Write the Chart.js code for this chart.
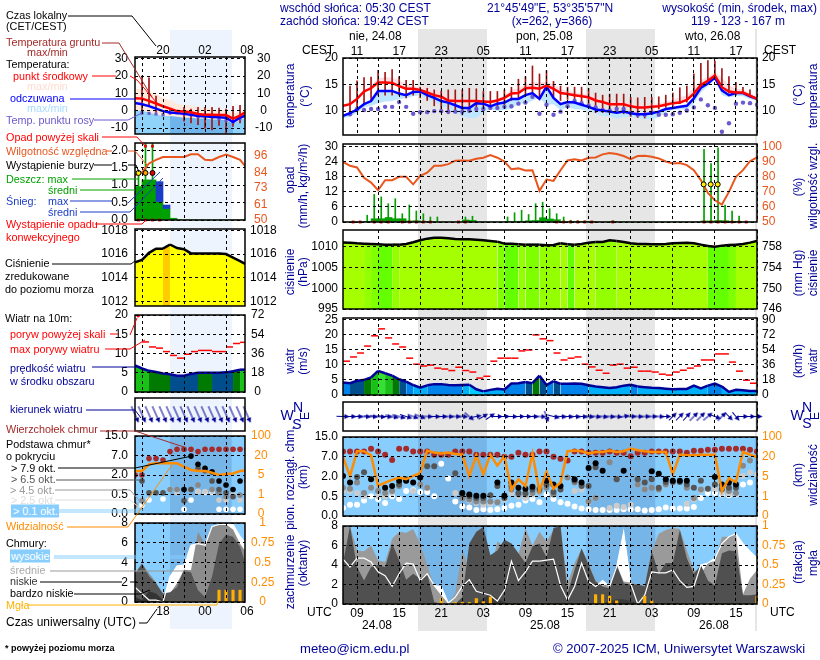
<!DOCTYPE html>
<html><head><meta charset="utf-8">
<script src="https://cdn.jsdelivr.net/npm/chart.js@4"></script>
<style>
html,body{margin:0;padding:0;background:#fff;width:820px;height:660px;overflow:hidden}
#page{position:relative;width:820px;height:660px;font-family:"Liberation Sans",Arial,sans-serif;font-size:12px}
#page canvas{position:absolute}
.t{position:absolute;white-space:nowrap;line-height:13px;transform:translateY(-50%);z-index:5}
.r{position:absolute;white-space:nowrap;line-height:13px;transform:translate(-50%,-50%) rotate(-90deg);z-index:5}
.s{position:absolute;z-index:1}
svg{position:absolute;left:0;top:0;z-index:4}
</style></head><body><div id="page"></div>
<script>
// ---------- main meteogram (hourly from 07 UTC 24.08) ----------
const tempMid=[11,11.3,12.3,13.7,14.3,15.4,15.4,15.3,14.7,14.2,14.2,14,13.5,13,12.7,12,11.9,11.9,11.9,11.9,11.8,11.7,12,12.5,13.3,13.4,14.3,14.4,14.2,14.8,14.2,13.4,13.2,13,12.8,12.6,12,11.7,11.3,11.3,11.3,10.9,10.7,10.7,10.8,10.9,11.2,11.5,11.6,12.1,13.3,14.9,15.7,16.7,14.5,13.7,13.5,13.5,12.9,12.3];
const tempMax=[11.2,11.5,12.6,14,14.8,16.2,16.4,16.3,15.8,15,14.7,14.5,14.5,14,13.5,13,12.3,12.2,12.2,12.2,12.2,12.1,12.3,13,14,14.3,15,15.5,15.4,15.5,15,14.2,13.8,13.6,13.3,13.2,12.7,12.2,11.9,11.8,11.8,11.5,11.2,11.1,11.3,11.5,11.8,12.1,12.6,13,14.5,15.8,16.4,17.3,16.3,14.8,14.2,14,13.4,12.6];
const appMid=[9.1,9.6,10.3,11.3,11.9,13.8,13.8,13.8,13.3,13,13.6,13.7,13,12.5,11.9,11.6,11.1,10.6,10.6,11.5,11.4,10.9,11.4,11.6,12.3,12.3,13,13.4,12.3,14.6,12.5,11.3,11.7,11.6,11.2,10.8,10.3,10.1,9.9,9.7,9.9,9.6,9.4,9.4,9.6,9.9,10.4,10.6,10.8,11,12.4,14.4,15.2,16.3,13.9,13,13.4,13.4,12.8,12.3];
const appMin=[8.6,9,9.7,10.7,11,11.5,11.8,11.9,12.3,12.4,12.8,13,12.3,11.8,11,10.4,9.7,9,8.7,8.7,9.8,10.4,10,10.2,10.4,11.5,11.4,12,12.5,11.2,11.3,10.2,10.7,10.4,10.3,10,9.5,9.1,9,8.6,8.9,9,8.7,8.4,8.4,8.9,9.8,10.2,10.3,10.3,11.4,13.5,14.7,16,13,12.6,12.8,12.8,12.3,12];
const dewPoint=[null,9.4,10.4,10.2,10.4,10.4,10.8,10.8,11.7,10.8,9.5,9.8,9.8,10,10,9.9,9.9,9.9,10.1,10.4,10.4,10.6,10.6,10.8,10.9,11.4,11.6,12.7,9.5,11.2,9.3,9.9,10.9,11.9,11.5,11,10.7,10.2,10.1,10.4,10.4,9.6,9.3,9.3,9.7,9.3,9.3,9.4,9.7,10.1,10.7,12.2,11.1,10.6,6.1,7.7,11.4,11.6,11.5,11.2];
const groundMax=[null,14.7,15.7,16.3,16.4,17.7,17.3,17.8,16.5,15.8,15.8,14.5,14.3,14,13.8,14,14,14,14.3,14.2,13.7,13.7,13.7,14,14.5,16,16.5,18.5,17,17.6,15.6,14.7,14.5,14.5,14.5,14.3,13.4,13,13.2,13.2,13.2,12.6,12.5,12.6,12.6,12.7,13,13.4,14.4,14.7,17,19,19.5,19.4,18,16.5,15.4,14.5,14,12.4];
const groundMin=[null,10,10.5,11.5,12,13,13,13,13,12.5,13,12.5,12,11,10,9.5,9.7,9.3,9.7,10.5,10.4,10.5,10.5,11,12,12.3,13,13.6,12.6,14,12.7,12,12.2,11.9,11.7,11.2,9.7,9.7,9.7,10,9.5,9,8.8,8.7,9.7,10.4,10.7,10.9,11.4,11.7,12.7,15,15.6,16.3,14.7,13.4,13,13.4,12.7,12];
const humidity=[90,87.3,86.2,79.3,76.2,71.1,77.8,77.8,80,80,75,80.7,82.7,87.3,87.3,88.4,90.7,90.9,90.7,92,92.7,94.4,92.7,90.2,85,85.6,84.2,84.4,70.7,78.2,77.3,84.4,90.9,91.6,90.9,92.7,92.9,94.9,95.8,95.1,93.8,91.8,93.8,94,93.3,92.2,90.2,88.9,89.1,87.8,84.4,77.8,69.3,64.4,61.6,70,80,84.4,90.4,92.9];
const rainMax=[0,0,0,2.7,11,10,7.3,9.3,3.3,6.8,4.4,3.3,2,2,0,0,0,2,2.3,0,0,0,0,2,3.7,4.7,3,7.3,7.9,5.3,3.3,2,0.7,0.5,0.5,0.3,0,0,0.5,0,0,0,0,0,0,0,0,0,0,0,0,29,23.3,29.6,6.7,4.4,2.4,0,0];
const rainMean=[0,0,0,0.1,1.3,1.3,1.8,1.3,1.3,0.4,0.5,0.3,0.2,0,0,0,0,0.8,0.6,0,0,0,0,0.1,0.2,0.3,0.5,0.6,1.7,1.2,0.9,0.2,0.1,0.1,0.1,0.1,0,0,0.1,0,0,0,0,0,0,0,0,0,0,0,0,0.4,0.4,0.6,0.5,0.3,0.1,0,0];
const convective=[0,1,1,0,1,1,1,0,1,1,1,1,1,0,0,0,1,1,0,0,0,0,0,0,0,0,0,0,0,0,1,1,1,1,1,1,0,0,1,0,0,0,0,0,0,0,0,0,0,0,0,1,1,1,1,1,1,1,0];
const thunder=[null,null,null,null,null,null,null,null,null,null,null,null,null,null,null,null,null,null,null,null,null,null,null,null,null,null,null,null,null,null,null,null,null,null,null,null,null,null,null,null,null,null,null,null,null,null,null,null,null,null,null,15,15,15,null,null,null,null,null];
const pressure=[1011,1010.96,1010.8,1010.72,1010.64,1010.56,1010.48,1010.48,1010.48,1010.64,1011.04,1011.52,1011.92,1012.16,1012.16,1012,1011.84,1011.76,1011.76,1011.68,1011.52,1011.36,1011.2,1010.72,1010.72,1010.56,1010.48,1010.48,1010.48,1010.32,1010.4,1010.8,1010.56,1010.48,1010.64,1010.96,1011.12,1011.12,1011.52,1011.36,1011.12,1010.8,1010.64,1010.64,1010.56,1010.56,1010.64,1010.8,1010.88,1010.96,1010.8,1010.48,1010.16,1010,1010.24,1010.4,1010.48,1010.64,1010.96,1011.36];
const pressureBand=[0,0,0,1,2,3,3,1,0,0,0,0,0,0,0,0,0,0,0,0,0,0,2,3,3,1,2,2,1,1,1,0,3,0,0,0,1,1,1,0,0,0,0,0,0,0,0,0,0,0,0,0,3,3,3,2,0,0,0];
const windSpeed=[4.1,3.9,4.7,5,5.8,8,7.2,6.4,5.2,4.4,3.3,2.4,3.2,3.6,3.6,3.3,3.2,3.3,3.4,1.9,1.2,1.7,2.1,1.8,3.8,3.9,4.3,3.9,6.4,3.3,4.6,3.7,3.7,3.8,3.7,3.2,2.8,2.6,2.3,2.6,3.1,3.4,2.8,2.6,2.4,2.3,2.1,1.9,2,2,3.1,2.2,3.1,3.8,2.8,1,1.7,1.6,1.3,1.3];
const windBand=[2,3,3,4,5,6,5,4,3,2,1,1,2,2,2,2,2,1,0,0,1,1,1,2,2,2,3,4,3,2,3,2,2,2,2,1,1,1,1,1,1,2,1,1,1,1,1,1,1,1,1,1,2,2,1,1,1,1,1];
const gustMax=[11.2,12.6,13.9,16.2,19.6,21.9,18.9,16.9,15.9,12.2,10.2,9.6,9.9,8.9,8.6,8.1,9.2,8.1,7.6,5.6,6.2,11.2,12.2,12.2,12.2,14.6,14.9,19.9,18.6,18,13.9,11.6,12.2,12.6,10.2,9.3,8.2,7.2,9.9,10.2,8.9,9.2,7.9,7.9,7.6,6.9,6.6,7.6,8.2,8.9,9.6,11.6,11.6,13.6,13.6,10.9,7.9,4.9,3.9];
const windAngle=[2,2,3,3,4,5,5,12,15,18,20,22,3,2,2,3,2,3,40,-10,-30,-35,0,0,2,0,1,2,3,70,15,5,5,5,5,6,8,8,6,5,-10,0,2,0,0,2,0,-45,-45,-48,-45,-45,-40,20,-45,45,50,0,0,0];
const cloudTop=[3.26,3.26,3.26,3.26,3.41,3.26,3.10,2.83,3.41,3.41,3.26,3.26,3.26,3.10,3.10,3.10,3.26,3.26,3.26,3.10,3.10,3.10,3.1,3.0,3.0,3.2,3.1,3.1,3.26,3.26,3.0,2.9,2.81,3.26,3.26,3.2,3.2,3.2,3.26,3.2,3.2,3.03,3.2,3.2,3.26,3.26,3.26,3.26,3.26,3.2,3.31,3.31,3.36,3.36,3.41,3.41,3.41,3.41,3.36,3.26];
const base79=[2.03,1.69,null,null,1.86,null,1.43,1.52,1.78,1.78,1.69,1.95,null,null,null,null,null,1.17,1.09,1.03,1.03,null,1.69,1.03,1.69,1.43,1.38,1.48,null,1.78,1.6,1.52,null,1.86,1.69,2.43,2.67,2.29,null,null,2.29,null,null,null,2.26,2.14,1.86,1.78,1.78,1.78,null,null,null,1.98,1.6,1.69,1.6,null,null,null];
const base65=[null,null,1.98,2.21,null,null,null,null,1.6,1.86,null,null,2.52,2.52,null,null,2.16,1.09,1,0.91,0.91,1.05,1.52,0.91,1.52,1.17,1.17,1.34,1.38,1.6,1.22,1.34,null,1.78,1.52,1.52,2.47,null,null,1.86,null,null,1.86,1.69,1.86,1.43,1.72,1.72,1.72,1.6,1.43,1.78,1.38,1.6,1.38,1.43,1.43,null,null,null];
const base45=[1.43,1.38,1.69,1.17,1.43,1.26,1.17,1.26,1.52,1.78,null,1.6,1.43,null,null,null,null,0.9,0.83,0.74,0.74,0.74,0.69,null,1.34,1.09,1.09,1.17,1.26,1.43,1.09,null,1.95,1.69,1.6,0.74,0.91,null,2.72,1.86,null,null,1.6,1.34,1.43,1.34,1.6,null,null,1.43,0.91,1.34,null,null,1.34,1.26,1.17,2.55,2.81,null];
const base25=[1.26,1.26,1.17,1,1.43,1,1,1.17,null,null,1.26,1.6,1.43,null,null,null,1.17,1.09,0.79,0.66,0.57,0.62,0.69,0.83,1.17,1,0.91,1.09,1.26,1.6,1.09,null,null,1.26,1.34,0.69,0.91,null,0.4,0.52,0.45,0.57,1.6,1.34,null,null,1.6,null,null,0.62,0.83,1.29,1.38,1.34,1.17,1.1,1.1,2.03,2.2,2.12];
const base01=[0.4,0.57,0.57,0.79,1,0.86,0.66,1,0.86,1.26,1.31,1.22,1.22,1,2.64,1.9,0.74,0.48,0.43,0.31,0.34,0.31,0.34,0.4,0.52,0.57,0.78,0.86,0.69,1.09,0.86,0.69,0.62,0.48,0.38,0.34,0.31,0.31,0.31,0.31,0.34,0.34,0.34,0.28,0.31,0.34,0.43,0.38,0.38,0.38,0.45,0.91,1.17,1.17,1.09,1.05,1.09,1.6,1.69,null];
const visibility=[2.98,2.03,3.28,3.28,3.07,1.52,1.69,1.83,1.95,1.86,2.03,2.17,3.31,3.21,3.16,3.21,3.14,3.1,2.03,3.07,2.12,3.1,2.55,3.03,1.34,1.86,1.52,3.16,1.26,2.24,1.38,1.69,3.28,3.31,3.28,3.17,3.24,3.24,3.31,3.24,3.28,3.41,3.33,3.28,3.24,3.24,3.24,2.12,3.1,3.07,3.07,3.1,3.1,3.1,1.26,1.9,1.72,3.24,3.1,2.98];
const cloudHigh=[4.6,3.8,4.7,4.7,4.3,3.3,2.9,1.8,3.1,4.2,4.1,2.4,3.1,1.9,1.8,0.1,0.7,1.8,2.5,1.3,1.1,0.9,0.3,1.4,4.4,2.4,3.3,4.4,4.4,4.5,4.6,1.9,0.4,1.8,4.2,2.3,1.8,2.4,1.8,3.8,7.4,2.1,0,0.9,3.3,3.2,3.2,3.5,2.4,1.7,1.8,4,4.2,4.7,6.2,6.9,7.2,6.2,5.4,4.7];
const cloudMed=[7.9,8,5.5,5.4,6,4.5,4.3,6.7,7.4,7.3,7.7,6.2,4,1.8,0.9,0.05,1.1,5.5,3.6,5.4,5,3.3,6.4,5.9,6.2,5.1,7.8,6,7.4,6.4,7.6,8,2.1,4.2,5.7,4.2,2.4,1.9,2.1,4,2.3,2.2,2,1.9,5.5,7.2,7.6,7.8,7.7,5.5,3.5,3.1,4.2,4.4,6.9,6.9,7.2,1,2.6,3.5];
const cloudLow=[4.2,8,3.8,2.4,3.8,4,3.8,6.2,4.5,2.5,3.1,2.6,3.1,0.2,0,0,0,0.7,6.2,7.4,7.9,5,5.5,6.6,6.2,5.2,4.2,5.9,6.2,4.8,7.8,8,1.1,3.5,5.7,4,2.3,1.8,1.6,4,2.1,2,2,1.8,5.4,3.1,4.2,4.2,7.6,4.7,3.1,4,2.4,1.9,5.2,5.5,5.4,0.9,0.9,1];
const cloudVeryLow=[0,0,0,0,0,0,0,0,0,0,0,0,0,0,0,0,0,0,0,0,0.6,1,0.6,0.2,0,0,0,0,0,0,0,0,0,0,0,0,0,0,0.3,0.5,0.5,0.3,0.1,0,0,0,0,0,0,0,0,0,0,0,0,0,0,0,0,0];
const fog=[0,0,0,0,0,0,0,0,0,0,0,0,0,0,0.07,0,0.02,0.02,0.02,0.07,0.03,0.09,0,0,0,0,0,0,0,0,0,0,0,0,0,0,0.12,0.12,0.1,0.04,0,0,0,0.1,0.04,0,0,0,0,0,0,0,0,0,0,0,0,0,0,0.1];
// ---------- left legend meteogram (hourly from 14 UTC) ----------
const sTempMid=[7.2,7,5.7,4.2,2.6,1.2,-0.2,-0.4,-0.9,-1.9,-2.3,-2.3,-2.5,-2.5,-4.5,-2.8,-0.2];
const sTempMax=[13,12,11,9.5,7.5,6,4,3.5,3,2,1.5,1,0.5,0.5,-1.5,-0.5,0.5];
const sAppMid=[4.5,3.8,2.7,1.2,-0.2,-1,-1.3,-1.8,-2.3,-3,-3.2,-3.6,-3.8,-4,-6.5,-4,-2.5];
const sAppTop=[0,0,-1,-2,-3,-3,-3.5,-4,-4,-4.5,-4.5,-5,-5,-5.5,-7.5,-5.5,-3.5];
const sAppMin=[-13.4,-13.4,-13.4,-13.4,-13.4,-13.4,-13.4,-13.4,-13.4,-13.4,-13.4,-13.4,-13.4,-13.4,-13.4,-13.4,-13.4];
const sDew=[null,-1.2,-1.5,-1.9,-2.3,-1.2,-1.2,-1.7,-2.3,-3.5,-3.5,-3.5,-4.6,-5.4,-6.5,-4.6,null];
const sGroundMax=[null,20,19,8.5,null,1,null,2,1,2,2,2,1.5,1,2.5,3.2,null];
const sGroundMin=[null,-2,2.5,-1,null,-2,null,-6,-7,-8,-10,-11,-8.5,-13,-9,-7,null];
const sHumidity=[82,84,90.4,93,95,95,95,95,97,97,93,92.7,95,96.7,95,93,87];
const sRainMean=[0.96,1.15,1.15,0.53,0.33,0.05,0,0,0,0,0,0,0,0,0,0];
const sSnowMean=[0,0,0,0.57,0.1,0,0,0,0,0,0,0,0,0,0,0];
const sRainMax=[1.35,2.21,2.21,0,0,0,0,0,0,0,0,0,0,0,0,0];
const sConvective=[1,1,1,1,0,0,0,0,0,0,0,0,0,0,0,0];
const sOverScale=[null,2.12,2.12,null];
const sThunder=[1.35,1.35,1.35];
const sPressure=[1015.3,1015.5,1016.1,1016.45,1016.45,1016.8,1016.5,1016.4,1016.05,1016.05,1016.05,1016.05,1016.05,1016,1015.7,1015.4,1015.1];
const sPressureBand=[0,0,0,0,2,0,0,0,0,0,0,0,0,0,0,0];
const sWind=[6.9,6.1,5.5,5.2,4.8,4.6,4.2,4.2,4.7,5,5,5,5,5.1,5.4,5.8,5.8];
const sWindBand=[5,5,4,4,4,3,3,3,3,4,4,3,3,3,4,5];
const sGust=[20.5,13,11.7,11.4,10.5,9.5,8.8,9.8,10.5,10.8,10.8,10.5,10.5,11.7,12.6,12.9];
const sCloudTop=[2,2,2.84,2.84,2.77,3.2,3.32,3.32,3.32,3.2,3.32,3.32,3.32,3.32,3.32,3.32,3.32];
const sBase79=[null,null,null,null,null,null,null,1.26,2.97,2.55,2.34,2.17,1.69,1.49,1.26,1.69,null];
const sBase65=[null,1.69,1.09,1.09,1.09,null,null,0.68,1.26,2.34,2.22,1.69,1.26,1.09,0.89,null,1.69];
const sBase45=[0.46,0.68,null,null,null,1.26,1.26,null,1.26,1.49,null,1.26,1.09,0.89,null,0.97,null];
const sBase25=[0.41,null,null,null,null,1.26,1.09,null,null,1.15,1.15,1.15,0.72,0.72,0.97,0.72,0.72];
const sBase01=[null,0.46,0.72,null,0.77,null,null,0.24,0.72,1.15,1.11,1.11,0.24,0.24,0.24,0.24,null];
const sVis=[2.2,2.2,2.55,2.6,2.6,2.6,2.6,2.43,2.26,2.2,2.2,2.12,2,2.05,2.08,2.2,2.24];
const sHigh=[1.5,0.85,0.2,0.2,0,2.55,3.65,3.75,5.75,5.9,5.75,7.65,7.85,7.85,7.85,6.65,5.75];
const sMed=[2.9,3.9,2.9,2,0.5,0.85,1.9,3.25,3.25,7.1,5.9,7.6,7.85,7.85,7.35,5.9,4.9];
const sLow=[2.8,3.9,2.6,1.9,0.85,1,1.5,3.3,3,1.2,0.5,2.55,5.9,6.8,6.6,5.6,3.4];
const sVeryLow=[0.5,0.2,1.1,0.85,0.2,0,0,0,0,0,0,0,0,0,0,0,0];
const sFog=[0,0,0,0,0,0,0,0,0,0,0,0,0.15,0.15,0.15,0.15,0];
// ---------- axis labels ----------
const hoursCEST=['11','17','23','05','11','17','23','05','11','17'];
const hoursUTC=['09','15','21','03','09','15','21','03','09','15'];
const leftTicksCET=['20','02','08'], leftTicksUTC=['18','00','06'];
const heightTicks=['0.0','0.5','2.0','7.0','15.0'], visTicks=['0','1','5','20','100'];
const mmHgTicks=['746','750','754','758'], rhLeftTicks=['50','61','73','84','96'];
const fracTicks=['0','0.25','0.5','0.75','1'];
// ---------- styles ----------
const NAVY='#000099',GRN='#00a000',DRED='#a52a2a',ORG='#ff8c00',RHC='#e8561e',FOG='#ffb000';
const pressPal=['#a6ff00','#94ff00','#80ff00','#64ff00'];
const yelPal=['#ffff00','#ffe800','#ffcc00'];
const windPal=['#00ccff','#00b0f8','#0084ec','#004f8c','#007a00','#18c018','#33e033'];
const CLD='#87ceff',CLDN='#76b5e8';
const H=7.017;
Chart.defaults.font.family='"Liberation Sans",Arial,sans-serif';
Chart.defaults.font.size=12;
Chart.defaults.color='#000';
const page=document.getElementById('page');
const pts=a=>a.map((y,i)=>({x:i,y}));
const ptsOff=(a,o)=>a.map((y,i)=>({x:i+o,y}));
const line=(a,c,w,extra)=>Object.assign({type:'line',data:pts(a),borderColor:c,borderWidth:w,pointRadius:0,tension:0,fill:false},extra||{});
const band=(a,c,fill,extra)=>Object.assign({type:'line',data:pts(a),borderWidth:0,borderColor:'transparent',backgroundColor:c,pointRadius:0,tension:0,fill},extra||{});
const dots=(a,c,r,extra)=>Object.assign({type:'line',data:pts(a),showLine:false,pointRadius:r,pointBackgroundColor:c,pointBorderColor:c,pointBorderWidth:0},extra||{});
const bars=(d,c,w)=>({type:'bar',data:d,backgroundColor:c,barThickness:w,borderWidth:0,grouped:false});
const cache={};
function arrow(len){len=Math.round(len);if(cache[len])return cache[len];
 const c=document.createElement('canvas');c.width=c.height=len+4;const x=c.getContext('2d'),m=(len+4)/2;
 x.strokeStyle=NAVY;x.fillStyle=NAVY;x.lineWidth=1;x.beginPath();x.moveTo(m-len/2,m);x.lineTo(m+len/2-3,m);x.stroke();
 x.beginPath();x.moveTo(m+len/2,m);x.lineTo(m+len/2-5,m-2.6);x.lineTo(m+len/2-5,m+2.6);x.closePath();x.fill();return cache[len]=c;}
const decor={id:'decor',
 beforeDatasetsDraw(ch,a,o){const A=ch.chartArea,c=ch.ctx;if(!o.bg)return;c.save();c.fillStyle=o.bg;c.fillRect(A.left,A.top,A.width,A.height);
  c.fillStyle=o.nightColor;(o.night||[]).forEach(n=>{const l=ch.scales.x.getPixelForValue(n[0]),r=ch.scales.x.getPixelForValue(n[1]);c.fillRect(l,A.top,r-l,A.height)});c.restore();},
 afterDraw(ch,a,o){const A=ch.chartArea,c=ch.ctx;c.save();c.strokeStyle='#000';c.lineWidth=1.5;c.strokeRect(A.left,A.top,A.width,A.height);c.restore();}};
Chart.register(decor);
function yAxis(pos,min,max,values,labels,color,width,pad,center){
 return {type:'linear',axis:'y',position:pos,min,max,display:true,border:{display:false,dash:[3,3]},
  afterBuildTicks(s){s.ticks=values.map(v=>({value:v}))},afterFit(s){s.width=width;s.paddingTop=0;s.paddingBottom=0},
  grid:pos==='left'?{z:1,color:'#000',lineWidth:1,drawTicks:false}:{display:false,drawTicks:false},
  ticks:{color,padding:pad,crossAlign:center?'center':'near',autoSkip:false,callback:(v)=>labels?labels[values.indexOf(v)]:String(v)}};
}
function xAxis(min,max,gridVals,labelVals,labels,pos,h){
 return {type:'linear',axis:'x',position:pos,min,max,offset:false,display:true,border:{display:false,dash:[3,3]},
  afterBuildTicks(s){s.ticks=gridVals.map(v=>({value:v}))},afterFit(s){s.height=h;s.paddingLeft=0;s.paddingRight=0},
  grid:{z:1,offset:false,drawTicks:false,color:c=>c.tick&&c.tick.value>max?'transparent':'#000',lineWidth:1},
  ticks:{display:h>0,autoSkip:false,maxRotation:0,padding:pos==='top'?-1:2,callback:v=>{const k=labelVals.indexOf(v);return k<0?'':labels[k]}}};
}
function panel(g,datasets,y,opts){
 opts=opts||{};const pad=9,tH=opts.topH||0,bH=opts.botH||0;
 const c=document.createElement('canvas');const W=g.lw+g.R-g.L+g.rw,Ht=pad+tH+g.B-g.T+bH+pad;
 c.width=W;c.height=Ht;c.style.cssText=`left:${g.L-g.lw}px;top:${g.T-tH-pad}px;width:${W}px;height:${Ht}px;z-index:2`;page.appendChild(c);
 const n=datasets.length;datasets.forEach((d,i)=>{d.order=n-i;if(d.yAxisID===undefined)d.yAxisID='y';});
 const scales=Object.assign({x:xAxis(g.xmin,g.xmax,g.grid,g.labelVals,opts.labels||[],tH?'top':'bottom',tH||bH)},y);
 return new Chart(c,{type:'line',data:{datasets},options:{responsive:false,animation:false,events:[],
  layout:{padding:{top:pad,bottom:pad,left:0,right:0}},
  scales,plugins:{legend:{display:false},tooltip:{enabled:false},decor:{bg:opts.bg,night:g.night,nightColor:CLDN}}}});
}
// ---------- stripes ----------
function stripe(x,w,y,h,c){const d=document.createElement('div');d.className='s';d.style.cssText=`left:${x}px;width:${w}px;top:${y}px;height:${h}px;background:${c}`;page.appendChild(d);}
const mainNight=[[10.7,20.5],[34.7,44.5],[58.7,59]],leftNight=[[5,13.8]];
mainNight.forEach(n=>stripe(343+n[0]*H,(n[1]-n[0])*H,29,602,'#e6e6e6'));
stripe(170,62,30,599,'#eef4fd');
// ---------- geometry of the two columns ----------
const mainGrid=[];for(let i=2;i<60;i+=3)mainGrid.push(i);
const mainLab=[2,8,14,20,26,32,38,44,50,56];
const M=(T,B)=>({L:343,R:757,T,B,lw:60,rw:60,xmin:0,xmax:59,grid:mainGrid,labelVals:mainLab,night:mainNight});
const leftGrid=[1,4,7,10,13,16];const leftLab=[4,10,16];
const S=(T,B)=>({L:135,R:245,T,B,lw:60,rw:36,xmin:0,xmax:15.71,grid:leftGrid,labelVals:leftLab,night:leftNight});
const LP=7;
// ---------- main panels ----------
const zero=convective.map(v=>v?0:null);
panel(M(58,135),[
 band(tempMax,'#ffdde0','+1'),band(tempMid,'transparent',false),
 band(appMid,'#bfe6ff','+1'),band(appMin,'transparent',false),
 bars(groundMax.map((v,i)=>({x:i,y:v==null?null:[groundMin[i],v]})),'#a01818',1),
 dots(dewPoint,'#6a5acd',2.2),
 line(appMid,'#0000ff',2.5),line(tempMid,'#ff0000',2.5)
],{
 y:yAxis('left',5.5,20,[20,15,10],null,'#000',60,5),
 y2:yAxis('right',5.5,20,[20,15,10],null,'#000',60,5)},{topH:15,labels:hoursCEST});
panel(M(144,222),[
 bars(ptsOff(rainMean,0.5),GRN,7),
 bars(ptsOff(rainMax,0.45),GRN,1),
 Object.assign(line(humidity,RHC,2),{yAxisID:'y2'}),
 dots(thunder,'#ffee00',2.5,{data:ptsOff(thunder,0.4),pointBorderColor:'#000',pointBorderWidth:1}),
 dots(zero,'#d80000',2,{data:ptsOff(zero,0.45),pointStyle:'rect',clip:false})
],{
 y:yAxis('left',0,31.1,[0,6,12,18,24,30],null,'#000',60,5),
 y2:yAxis('right',50,101.8,[50,60,70,80,90,100],null,RHC,60,5)});
panel(M(230,309),[
 line(pressure,'#000',2.5,{fill:'start',backgroundColor:pressPal[0],segment:{backgroundColor:c=>pressPal[pressureBand[c.p0DataIndex]]}})
],{
 y:yAxis('left',995,1014,[995,1000,1005,1010],null,'#000',60,5),
 y2:yAxis('right',995,1014,[995,1000,1005,1010],mmHgTicks,'#000',60,5)});
panel(M(318,395),[
 line(windSpeed,NAVY,2.5,{fill:'start',backgroundColor:windPal[2],segment:{backgroundColor:c=>windPal[windBand[c.p0DataIndex]]}}),
 {type:'line',data:ptsOff(gustMax,0.5),showLine:false,pointStyle:'line',pointRadius:3.5,pointBorderColor:'#f00',pointBorderWidth:1.5,clip:false}
],{
 y:yAxis('left',0,25.5,[0,5,10,15,20,25],null,'#000',60,5),
 y2:yAxis('right',0,25.5,[0,5,10,15,20,25],['0','18','36','54','72','90'],'#000',60,5)});
const hide=(s,w)=>({type:'linear',axis:'y',position:s,min:0,max:1,display:true,border:{display:false},afterBuildTicks(a){a.ticks=[]},afterFit(a){a.width=w;a.paddingTop=0;a.paddingBottom=0},grid:{display:false,drawTicks:false},ticks:{display:false}});
panel(M(402,431),[
 {type:'line',data:windAngle.map((a,i)=>({x:i,y:0.5})),showLine:false,clip:false,pointRadius:4,pointStyle:c=>arrow(10+windSpeed[c.dataIndex]*0.7),pointRotation:c=>windAngle[c.dataIndex]}
],{y:hide('left',60),y2:hide('right',60)});
const heightPanel=(g,top,b79,b65,b45,b25,b01,vis,r,opts)=>panel(g,[
 dots(b01,'#ffffff',r),dots(b25,'#cccccc',r),dots(b45,'#888888',r),dots(b65,'#555555',r),dots(b79,'#000000',r),
 dots(top,DRED,r),line(vis,ORG,2.5)
],{
 y:yAxis('left',0,4,[0,1,2,3,4],heightTicks,'#000',g.lw,g.L===135?LP:5),
 y2:yAxis('right',0,4,[0,1,2,3,4],visTicks,ORG,g.rw,g.L===135?6:5,g.L===135)
},opts);
heightPanel(M(437,516),cloudTop,base79,base65,base45,base25,base01,visibility,3,{bg:CLD});
const cloudPanel=(g,hi,me,lo,vl,f,colors,opts)=>panel(g,[
 line(hi,'#fff',0,{fill:'start',backgroundColor:'#ffffff'}),
 line(me,'#999',0,{fill:'start',backgroundColor:colors[0]}),
 line(lo,'#555',0,{fill:'start',backgroundColor:colors[1]}),
 line(vl,'#333',0,{fill:'start',backgroundColor:colors[2]}),
 line(hi,'#fff',1.2),
 Object.assign(bars(pts(f),FOG,2.5),{yAxisID:'y2'})
],{
 y:yAxis('left',0,8,[0,2,4,6,8],null,'#000',g.lw,g.L===135?LP:5),
 y2:yAxis('right',0,1,[0,0.25,0.5,0.75,1],fracTicks,ORG,g.rw,g.L===135?6:5,g.L===135)
},opts);
cloudPanel(M(526,604),cloudHigh,cloudMed,cloudLow,cloudVeryLow,fog,['#9a9a9a','#505050','#3a3a3a'],{bg:CLD,botH:15,labels:hoursUTC});
// ---------- left legend panels ----------
panel(S(57,134),[
 band(sTempMax,'#ffe8dc','+1'),
 band(sAppTop,'#8fd3fb','+1',{segment:{backgroundColor:c=>(c.p0DataIndex>=leftNight[0][0]&&c.p0DataIndex<leftNight[0][1])?'#6fb4ea':'#8fd3fb'}}),
 band(sAppMin,'transparent',false),
 bars(sGroundMax.map((v,i)=>({x:i,y:v==null?null:[sGroundMin[i],v]})),'#a01818',1),
 dots(sDew,'#6a5acd',2.2,{pointStyle:'rect'}),
 line(sAppMid,'#0000ff',2.5),line(sTempMid,'#ff0000',2.5)
],{
 y:yAxis('left',-13.4,31,[30,20,10,0,-10],null,'#000',60,LP),
 y2:yAxis('right',-13.4,31,[30,20,10,0,-10],null,'#000',36,10,true)},{topH:15,labels:leftTicksCET});
panel(S(143,220),[
 bars(ptsOff(sRainMean,0.5),GRN,7),
 bars(sSnowMean.map((v,i)=>({x:i+0.5,y:v?[sRainMean[i],sRainMean[i]+v]:null})),'#1c3cc8',7),
 bars(ptsOff(sRainMax,0.5),GRN,1),
 Object.assign(line(sHumidity,RHC,2),{yAxisID:'y2'}),
 dots(sConvective,'#d80000',2,{data:ptsOff(sConvective.map(v=>v?0:null),0.5),pointStyle:'rect',clip:false}),
 dots(sOverScale,'#d80000',2,{data:ptsOff(sOverScale,0.5),pointStyle:'rect'}),
 {type:'line',data:ptsOff(sThunder,0.5),showLine:false,pointRadius:2.5,pointBorderColor:'#000',pointBorderWidth:1,pointBackgroundColor:['#ffee00','#ffa500','#e00000']}
],{
 y:yAxis('left',0,2.21,[0,0.5,1,1.5,2],['0.0','0.5','1.0','1.5','2.0'],'#000',60,LP),
 y2:yAxis('right',50,105,[50,61,73,84,96],rhLeftTicks,RHC,36,9)});
panel(S(229,306),[
 line(sPressure,'#000',2.5,{fill:'start',backgroundColor:yelPal[0],segment:{backgroundColor:c=>yelPal[sPressureBand[c.p0DataIndex]]}})
],{
 y:yAxis('left',1011.64,1018.1,[1012,1014,1016,1018],null,'#000',60,LP),
 y2:yAxis('right',1011.64,1018.1,[1012,1014,1016,1018],null,'#000',36,5)});
panel(S(315,392),[
 line(sWind,NAVY,2.5,{fill:'start',backgroundColor:windPal[3],segment:{backgroundColor:c=>windPal[sWindBand[c.p0DataIndex]]}}),
 {type:'line',data:ptsOff(sGust,0.5).slice(1),showLine:false,pointStyle:'line',pointRadius:3.5,pointBorderColor:'#f00',pointBorderWidth:1.5},
 {type:'line',data:[{x:0.45,y:19.8}],showLine:false,pointStyle:'circle',pointRadius:1.8,pointBackgroundColor:'#f00',pointBorderWidth:0}
],{
 y:yAxis('left',0,20,[0,5,10,15,20],null,'#000',60,LP),
 y2:yAxis('right',0,20,[0,5,10,15,20],['0','18','36','54','72'],'#000',36,6,true)});
panel(S(398,431),[
 {type:'line',data:sWind.map((a,i)=>({x:i,y:0.5})),showLine:false,clip:false,pointRadius:4,pointStyle:()=>arrow(18),pointRotation:()=>66}
],{y:hide('left',60),y2:hide('right',36)});
heightPanel(S(436,514),sCloudTop,sBase79,sBase65,sBase45,sBase25,sBase01,sVis,2.8,{bg:CLD});
cloudPanel(S(523,602),sHigh,sMed,sLow,sVeryLow,sFog,['#8c8c8c','#555555','#333333'],{bg:CLD,botH:15,labels:leftTicksUTC});
// ---------- text ----------
function T(x,y,s,c,extra){const d=document.createElement('div');d.className='t';d.textContent=s;d.style.left=x+'px';d.style.top=y+'px';d.style.color=c||'#000';if(extra)d.style.cssText+=';'+extra;page.appendChild(d);return d;}
function R(x,y,s,c){const d=document.createElement('div');d.className='r';d.textContent=s;d.style.left=x+'px';d.style.top=y+'px';d.style.color=c||NAVY;page.appendChild(d);}
const C=';transform:translate(-50%,-50%)',RT=';transform:translate(-100%,-50%)',LS='font-size:10.8px';
[[6,15,'Czas lokalny'],[6,26,'(CET/CEST)'],[6,42,'Temperatura gruntu',DRED],[27,52,'max/min',DRED],[6,64,'Temperatura:'],[13,76,'punkt środkowy','#f00'],[27,86,'max/min','#ffdcd0'],[10,98,'odczuwana','#00f'],[27,108,'max/min','#a8dcff'],[6,120,'Temp. punktu rosy','#6a5acd'],[6,137,'Opad powyżej skali','#f00'],[6,151,'Wilgotność względna',RHC],[6,165,'Wystąpienie burzy'],[6,179,'Deszcz: max',GRN],[48,190,'średni',GRN],[6,201,'Śnieg:','#1c3cc8'],[48,201,'max','#1c3cc8'],[48,212,'średni','#1c3cc8'],[6,224,'Wystąpienie opadu','#f00'],[6,237,'konwekcyjnego','#f00'],[5,263,'Ciśnienie'],[5,276,'zredukowane'],[5,289,'do poziomu morza'],[5,318,'Wiatr na 10m:'],[10,334,'poryw powyżej skali','#f00'],[10,349,'max porywy wiatru','#f00'],[10,368,'prędkość wiatru',NAVY],[10,381,'w środku obszaru',NAVY],[10,409,'kierunek wiatru',NAVY],[6,429,'Wierzchołek chmur',DRED],[6,444,'Podstawa chmur*'],[6,456,'o pokryciu'],[11,468,'> 7.9 okt.'],[11,479,'> 6.5 okt.','#555'],[10,490,'> 4.5 okt.','#999'],[11,500,'> 2.5 okt.','#ddd'],[6,526,'Widzialność',ORG],[6,543,'Chmury:'],[10,570,'średnie','#aaa'],[10,581,'niskie','#333'],[10,593,'bardzo niskie','#000'],[6,605,'Mgła',FOG]
].forEach(a=>T(a[0],a[1],a[2],a[3],LS));
[[6,622,'Czas uniwersalny (UTC)'],
 [280,8,'wschód słońca: 05:30 CEST',NAVY],[280,21,'zachód słońca: 19:42 CEST',NAVY],[349,36,'nie, 24.08'],[516,36,'pon, 25.08'],[685,36,'wto, 26.08'],[302,50,'CEST'],[764,50,'CEST'],[307,612,'UTC'],[770,612,'UTC']
].forEach(a=>T(a[0],a[1],a[2],a[3]));
[[300,648,'meteo@icm.edu.pl',NAVY],[553,648,'© 2007-2025 ICM, Uniwersytet Warszawski',NAVY]].forEach(a=>T(a[0],a[1],a[2],a[3],'font-size:13.1px'));
T(11,511,'> 0.1 okt.','#fff',LS+';background:#87ceff;padding:0 1px 0 2px');
T(10,556,'wysokie','#fff',LS+';background:#87ceff;padding:0 1px');
T(5,648,'* powyżej poziomu morza','#000','font-size:9px;font-weight:bold');
T(550,8,'21°45\'49"E, 53°35\'57"N',NAVY,C);T(552,21,'(x=262,  y=366)',NAVY,C);
T(817,8,'wysokość (min, środek, max)',NAVY,RT);T(738,21,'119 - 123 - 167 m',NAVY,C);
T(377,625,'24.08','#000',C);T(545,625,'25.08','#000',C);T(714,625,'26.08','#000',C);
[[290,96,'temperatura'],[305,96,'(°C)'],[290,180,'opad'],[303,186,'(mm/h, kg/m²/h)'],[290,272,'ciśnienie'],[303,272,'(hPa)'],[290,361,'wiatr'],[303,361,'(m/s)'],[290,478,'pion. rozciągł. chm.'],[303,477,'(km)'],[290,572,'zachmurzenie'],[303,563,'(oktanty)'],
 [813,96,'temperatura'],[798,95,'(°C)'],[813,186,'wilgotność wzgl.'],[798,187,'(%)'],[813,273,'ciśnienie'],[798,273,'(mm Hg)'],[813,361,'wiatr'],[798,361,'(km/h)'],[813,475,'widzialność'],[798,475,'(km)'],[813,563,'mgła'],[798,562,'(frakcja)']
].forEach(a=>R(a[0],a[1],a[2]));
[[287,415,'W'],[298,407,'N'],[297,424,'S'],[797,415,'W'],[807,407,'N'],[807,423,'S']].forEach(a=>T(a[0],a[1],a[2],NAVY,'font-size:14px;transform:translate(-50%,-50%)'));
R(305,416,'E',NAVY);R(815,416,'E',NAVY);
// ---------- leader lines ----------
const leaders=[['#000',[[68,16],[132,16],[156,46]]],[DRED,[[102,43],[119,43],[152,97]]],['#f00',[[92,76],[116,76]]],['#f00',[[130,76],[137,80],[157,103]]],['#00f',[[70,99],[135,99]]],['#6a5acd',[[94,120],[128,120],[142,113]]],['#f00',[[102,137],[137,137],[146,147]]],[RHC,[[106,151],[112,151]]],[RHC,[[128,151],[135,151],[147,165]]],['#000',[[94,165],[112,165]]],['#000',[[128,165],[136,165],[139,172]]],[GRN,[[72,179],[139,179]]],[GRN,[[80,190],[135,190]]],['#1c3cc8',[[70,201],[112,201]]],['#1c3cc8',[[128,203],[160,172]]],['#1c3cc8',[[80,212],[130,212],[163,178]]],['#f00',[[95,224],[142,224],[146,220]]],['#000',[[52,264],[131,264],[135,261]]],['#f00',[[110,334],[118,334]]],['#f00',[[130,335],[137,318]]],['#f00',[[105,349],[130,349],[145,340]]],[NAVY,[[92,367],[137,367]]],[NAVY,[[86,410],[135,410],[141,418]]],[DRED,[[100,431],[135,431],[184,447]]],['#000',[[58,468],[135,468],[192,456]]],['#555',[[56,480],[143,480]]],['#999',[[55,490],[130,490],[143,505]]],['#ddd',[[55,500],[130,500],[140,508]]],['#87ceff',[[55,510],[143,510]]],['#87ceff',[[55,512],[143,512]]],[ORG,[[67,527],[128,527],[172,465]]],['#87ceff',[[54,556],[187,556]]],['#87ceff',[[54,558],[187,558]]],['#999',[[50,571],[192,571]]],['#000',[[40,582],[122,582]]],['#000',[[130,582],[137,582]]],['#000',[[74,594],[140,594],[150,590]]],[FOG,[[27,605],[217,605],[219,597]]],['#000',[[139,623],[147,623],[157,609]]]];
const ns='http://www.w3.org/2000/svg',svg=document.createElementNS(ns,'svg');svg.setAttribute('width','820');svg.setAttribute('height','660');
leaders.forEach(l=>{const p=document.createElementNS(ns,'polyline');p.setAttribute('points',l[1].map(q=>q.join(',')).join(' '));p.setAttribute('fill','none');p.setAttribute('stroke',l[0]);p.setAttribute('stroke-width','1');svg.appendChild(p);});
page.appendChild(svg);
</script></body></html>
